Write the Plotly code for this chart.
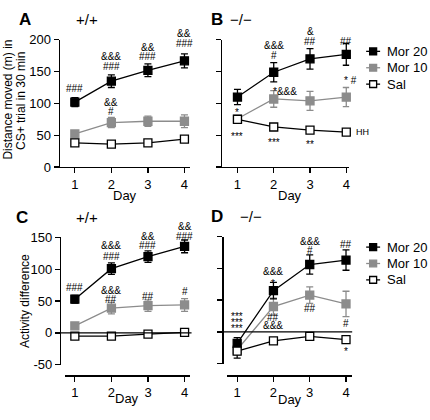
import plotly.graph_objects as go

# ---------------- data ----------------
days = [1, 2, 3, 4]
day_labels = ["1", "2", "3", "4"]
series_names = ["Mor 20", "Mor 10", "Sal"]
top_ticks = [0, 50, 100, 150, 200]
top_tick_labels = ["0", "50", "100", "150", "200"]
diff_ticks = [-50, 0, 50, 100, 150]
diff_tick_labels = ["-50", "0", "50", "100", "150"]

A_mor20 = [102, 135, 152, 167]; A_mor20_err = [7, 10, 10, 11]
A_mor10 = [52, 70, 72, 72];     A_mor10_err = [3, 8, 8, 10]
A_sal = [38, 36, 38, 44];       A_sal_err = [3, 3, 3, 3]

B_mor20 = [110, 149, 170, 177]; B_mor20_err = [12, 15, 16, 17]
B_mor10 = [76, 107, 104, 110];  B_mor10_err = [5, 13, 15, 15]
B_sal = [75, 63, 58, 55];       B_sal_err = [3, 3, 3, 3]

C_mor20 = [53, 101, 120, 136];  C_mor20_err = [6, 9, 9, 10]
C_mor10 = [11, 39, 43, 44];     C_mor10_err = [4, 9, 9, 10]
C_sal = [-5, -5, -2, 1];        C_sal_err = [2, 2, 2, 2]

D_mor20 = [-18, 65, 106, 113];  D_mor20_err = [9, 13, 15, 16]
D_mor10 = [-28, 40, 58, 44];    D_mor10_err = [8, 13, 13, 20]
D_sal = [-30, -14, -7, -12];    D_sal_err = [11, 3, 3, 3]

# significance labels: (day, value, text)
A_marks = [(1, 123, "###"), (2, 173, "&&&"), (2, 158, "###"), (3, 188, "&&"), (3, 173, "###"),
           (4, 209, "&&"), (4, 194, "###"), (2, 102, "&&"), (2, 87, "#")]
B_marks = [(1, 86, "*"), (1, 48, "***"), (2, 191, "&&&"), (2, 176, "#"), (2, 39, "***"),
           (3, 212, "&"), (3, 198, "##"), (3, 35, "**"), (4, 198, "##")]
C_marks = [(1, 72, "###"), (2, 137, "&&&"), (2, 120, "###"), (3, 152, "&&"), (3, 137, "###"),
           (4, 166, "&&"), (4, 152, "###"), (2, 66, "&&&"), (2, 53, "##"), (3, 58, "##"), (4, 65, "#")]
D_marks = [(1, 25, "***"), (1, 15, "***"), (1, 5, "***"), (2, 95, "&&&"), (2, 76, "*"),
           (2, 22, "##"), (2, 10, "&&&"), (3, 142, "&&&"), (3, 128, "#"), (3, 37, "##"),
           (4, 137, "##"), (4, 13, "#"), (4, -31, "*")]

# ---------------- style ----------------
W, H = 430, 420
FONT = "Liberation Sans, Arial, sans-serif"
BLACK = "#000000"
GRAY = "#8c8c8c"
LW = 1.3
PXU = 0.66  # pixels per y unit (all panels)

def px(x):
    return x / W

def py(y):
    return 1 - y / H

fig = go.Figure()

panels = [
    ("x", "y", A_mor20, A_mor20_err, A_mor10, A_mor10_err, A_sal, A_sal_err),
    ("x2", "y2", B_mor20, B_mor20_err, B_mor10, B_mor10_err, B_sal, B_sal_err),
    ("x3", "y3", C_mor20, C_mor20_err, C_mor10, C_mor10_err, C_sal, C_sal_err),
    ("x4", "y4", D_mor20, D_mor20_err, D_mor10, D_mor10_err, D_sal, D_sal_err),
]

for xa, ya, m20, m20e, m10, m10e, sal, sale in panels:
    specs = [
        (series_names[1], m10, m10e, GRAY, GRAY, GRAY),
        (series_names[0], m20, m20e, BLACK, BLACK, BLACK),
        (series_names[2], sal, sale, BLACK, "#ffffff", BLACK),
    ]
    for name, vals, errs, lc, fc, mlc in specs:
        fig.add_trace(go.Scatter(
            x=days, y=vals, name=name, xaxis=xa, yaxis=ya, mode="lines+markers",
            line=dict(color=lc, width=LW),
            marker=dict(symbol="square", size=8, color=fc, line=dict(color=mlc, width=LW)),
            error_y=dict(type="data", array=errs, color=lc, thickness=LW, width=3.5),
            showlegend=False, cliponaxis=False, hoverinfo="skip",
        ))

tickfont = dict(family=FONT, size=13, color=BLACK)
common_x = dict(tickvals=days, ticktext=day_labels, ticks="outside", ticklen=5, tickwidth=LW,
                tickcolor=BLACK, showline=True, linecolor=BLACK, linewidth=LW, showgrid=False,
                zeroline=False, tickfont=tickfont, fixedrange=True)
common_y = dict(ticks="outside", ticklen=5, tickwidth=LW, tickcolor=BLACK, showline=True,
                linecolor=BLACK, linewidth=LW, showgrid=False, zeroline=False, tickfont=tickfont,
                fixedrange=True)

top_dom = [py(166), py(34)]
fig.update_layout(
    xaxis=dict(domain=[px(60), px(190)], range=[0.59, 4.14], anchor="y", **common_x),
    yaxis=dict(domain=top_dom, range=[0, 200], tickvals=top_ticks, ticktext=top_tick_labels,
               anchor="x", **common_y),
    xaxis2=dict(domain=[px(223), px(350)], range=[0.587, 4.08], anchor="y2", **common_x),
    yaxis2=dict(domain=top_dom, range=[0, 200], tickvals=top_ticks, anchor="x2",
                showticklabels=False, **common_y),
    xaxis3=dict(domain=[px(65), px(190)], range=[0.727, 4.136], anchor="free", position=py(382), **common_x),
    yaxis3=dict(domain=[py(371), py(239)], range=[-50, 150], tickvals=diff_ticks, ticktext=diff_tick_labels,
                anchor="free", position=px(60), **common_y),
    xaxis4=dict(domain=[px(228), px(353)], range=[0.733, 4.17], anchor="free", position=py(382), **common_x),
    yaxis4=dict(domain=[py(370), py(238)], range=[-50, 150], tickvals=diff_ticks,
                anchor="free", position=px(223), showticklabels=False, **common_y),
)

shapes = []
annotations = []

# zero lines in C and D
shapes.append(dict(type="line", xref="paper", yref="y3", x0=px(60), x1=px(192), y0=0, y1=0,
                   line=dict(color=BLACK, width=LW)))
shapes.append(dict(type="line", xref="paper", yref="y4", x0=px(223), x1=px(353), y0=0, y1=0,
                   line=dict(color=BLACK, width=LW)))

sigfont = dict(family=FONT, size=10, color=BLACK)

def add_marks(marks, xa, ya, ymin, ymax):
    for d, v, t in marks:
        vv = min(max(v, ymin), ymax)
        annotations.append(dict(x=d, y=vv, xref=xa, yref=ya, text=t, showarrow=False,
                                font=sigfont, xanchor="center", yanchor="middle",
                                yshift=(v - vv) * PXU))

add_marks(A_marks, "x", "y", 0, 200)
add_marks(B_marks, "x2", "y2", 0, 200)
add_marks(C_marks, "x3", "y3", -50, 150)
add_marks(D_marks, "x4", "y4", -50, 150)

# extra labels in B placed beside points
annotations.append(dict(x=1.92, y=118, xref="x2", yref="y2", text="*&&&", showarrow=False,
                        font=sigfont, xanchor="left", yanchor="middle"))
annotations.append(dict(x=px(351), y=136, xref="paper", yref="y2", text="* #", showarrow=False,
                        font=sigfont, xanchor="center", yanchor="middle"))
annotations.append(dict(x=px(355), y=55, xref="paper", yref="y2", text="HH", showarrow=False,
                        font=dict(family=FONT, size=9, color=BLACK), xanchor="left", yanchor="middle"))

# panel letters and genotypes
lab = dict(family=FONT, size=17, color=BLACK)
geno = dict(family=FONT, size=15, color=BLACK)
for letter, lx, ly, g, gx in [("A", 25, 13, "+/+", 87), ("B", 218, 13, "\u2212/\u2212", 242),
                              ("C", 22, 218, "+/+", 87), ("D", 218, 217, "\u2212/\u2212", 252)]:
    annotations.append(dict(x=px(lx), y=py(ly), xref="paper", yref="paper", text=f"<b>{letter}</b>",
                            showarrow=False, font=lab, xanchor="center", yanchor="middle"))
    annotations.append(dict(x=px(gx), y=py(ly), xref="paper", yref="paper", text=g,
                            showarrow=False, font=geno, xanchor="center", yanchor="middle"))

# axis titles
tfont = dict(family=FONT, size=13, color=BLACK)
for tx, ty in [(125, 195), (291, 195), (127, 406), (291, 407)]:
    annotations.append(dict(x=px(tx), y=py(ty), xref="paper", yref="paper", text="Day",
                            showarrow=False, font=tfont, xanchor="center", yanchor="middle"))
yt = dict(family=FONT, size=12, color=BLACK)
annotations.append(dict(x=px(8), y=py(96), xref="paper", yref="paper", text="Distance moved (m) in",
                        showarrow=False, font=yt, textangle=-90, xanchor="center", yanchor="middle"))
annotations.append(dict(x=px(20.5), y=py(97), xref="paper", yref="paper", text="CS+ trial in 30 min",
                        showarrow=False, font=yt, textangle=-90, xanchor="center", yanchor="middle"))
annotations.append(dict(x=px(25), y=py(305), xref="paper", yref="paper", text="Activity difference",
                        showarrow=False, font=yt, textangle=-90, xanchor="center", yanchor="middle"))

# legends (B and D)
leg_font = dict(family=FONT, size=13, color=BLACK)
leg_styles = [(BLACK, BLACK), (GRAY, GRAY), (BLACK, "#ffffff")]
for rows in ([46, 63, 80], [249, 266, 283]):
    for (lc, fc), name, ry in zip(leg_styles, series_names, rows):
        shapes.append(dict(type="line", xref="paper", yref="paper", x0=px(367), x1=px(381),
                           y0=py(ry), y1=py(ry), line=dict(color=lc, width=LW)))
        shapes.append(dict(type="rect", xref="paper", yref="paper", x0=px(370.5), x1=px(377.5),
                           y0=py(ry + 3.5), y1=py(ry - 3.5), fillcolor=fc,
                           line=dict(color=lc, width=LW)))
        annotations.append(dict(x=px(386), y=py(ry), xref="paper", yref="paper", text=name,
                                showarrow=False, font=leg_font, xanchor="left", yanchor="middle"))

fig.update_layout(
    width=W, height=H, margin=dict(l=0, r=0, t=0, b=0),
    paper_bgcolor="white", plot_bgcolor="white",
    shapes=shapes, annotations=annotations, showlegend=False,
    font=dict(family=FONT, color=BLACK), hovermode=False,
)

# remove the browser's default 8px page margin so the figure sits at the window's corner
fig.write_html("out.html", config={"displayModeBar": False, "staticPlot": True},
               post_script="document.body.style.margin='0';document.body.style.overflow='hidden';")
